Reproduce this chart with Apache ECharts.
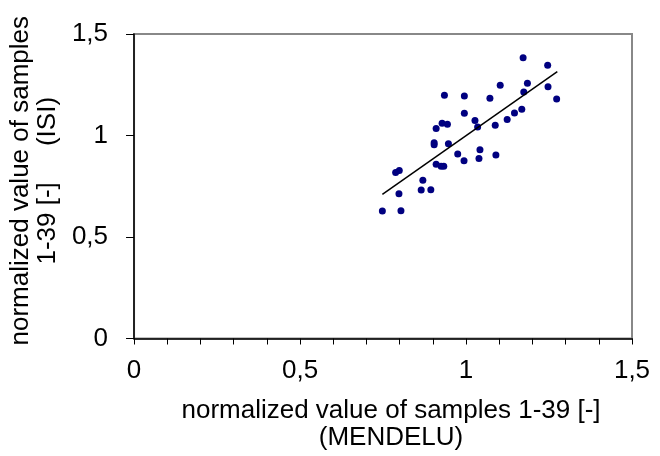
<!DOCTYPE html>
<html>
<head>
<meta charset="utf-8">
<script src="https://cdn.jsdelivr.net/npm/echarts@6/dist/echarts.min.js"></script>
<style>
  html, body { margin: 0; padding: 0; background: #fff; }
  #main { width: 660px; height: 456px; }
</style>
</head>
<body>
<div id="main"></div>
<script>
// normalized values
var mendelu = [0.748, 0.804, 0.788, 0.799, 0.798, 0.870, 0.865, 0.894, 0.904, 0.904,
               0.910, 0.910, 0.925, 0.933, 0.928, 0.944, 0.935, 0.947, 0.975, 0.994,
               0.995, 0.995, 1.027, 1.035, 1.042, 1.039, 1.072, 1.088, 1.090, 1.103,
               1.124, 1.146, 1.168, 1.174, 1.172, 1.185, 1.246, 1.247, 1.273]
var isi = [0.628, 0.629, 0.818, 0.828, 0.713, 0.779, 0.731, 0.733, 0.964, 0.955,
           1.035, 0.858, 0.848, 0.848, 1.060, 1.055, 1.198, 0.959, 0.909, 0.876,
           1.194, 1.109, 1.074, 1.042, 0.930, 0.887, 1.183, 1.050, 0.904, 1.247,
           1.079, 1.111, 1.129, 1.214, 1.383, 1.258, 1.346, 1.240, 1.180]
// trend line ends
var trendX = [0.748, 1.275]
var trendY = [0.710, 1.315]

var chart = echarts.init(document.querySelector('#main'))

var points = []
for (var i = 0; i < mendelu.length; i++) {
    points.push([mendelu[i], isi[i]])
}
var trend = [[trendX[0], trendY[0]], [trendX[1], trendY[1]]]

var comma = function (v) {
    return String(v).replace('.', ',')
}

var font = 'Liberation Sans, Arial, sans-serif'

var option = {
    animation: false,
    grid: {
        left: 131, right: 28, top: 34, bottom: 117,
        show: true,
        borderColor: '#888',
        borderWidth: 2
    },
    xAxis: {
        type: 'value',
        min: 0, max: 1.5, interval: 0.5,
        splitLine: { show: false },
        axisLine: { onZero: false, lineStyle: { color: '#000', width: 1.5 } },
        axisTick: { show: true, length: 6, lineStyle: { color: '#000' } },
        minorTick: { show: true, splitNumber: 5, length: 6, lineStyle: { color: '#000' } },
        axisLabel: { color: '#000', fontSize: 26, lineHeight: 26, fontFamily: font, margin: 19, formatter: comma },
        name: '{a|normalized value of samples 1-39 [-]}\n{a|(MENDELU)}',
        nameLocation: 'middle',
        nameGap: 59,
        nameTextStyle: {
            rich: {
                a: { fontSize: 26, fontFamily: font, color: '#000', lineHeight: 27, padding: [0, 0, 0, 16] }
            }
        }
    },
    yAxis: {
        type: 'value',
        min: 0, max: 1.5, interval: 0.5,
        splitLine: { show: false },
        axisLine: { onZero: false, lineStyle: { color: '#000', width: 1.5 } },
        axisTick: { show: true, length: 8, lineStyle: { color: '#000' } },
        axisLabel: { color: '#000', fontSize: 26, fontFamily: font, margin: 26, formatter: comma },
        name: '{a|normalized value of samples}\n{a|1-39 [-]     (ISI)}',
        nameLocation: 'middle',
        nameRotate: 90,
        nameGap: 66,
        nameTextStyle: {
            rich: {
                a: { fontSize: 26, fontFamily: font, color: '#000', lineHeight: 27, padding: [0, 0, 0, 11] }
            }
        }
    },
    series: [
        {
            type: 'scatter',
            data: points,
            symbol: 'circle',
            symbolSize: 7,
            itemStyle: { color: '#000080', opacity: 1 }
        },
        {
            type: 'line',
            data: trend,
            symbol: 'none',
            lineStyle: { color: '#000', width: 1.5 }
        }
    ]
}

chart.setOption(option)
</script>
</body>
</html>
